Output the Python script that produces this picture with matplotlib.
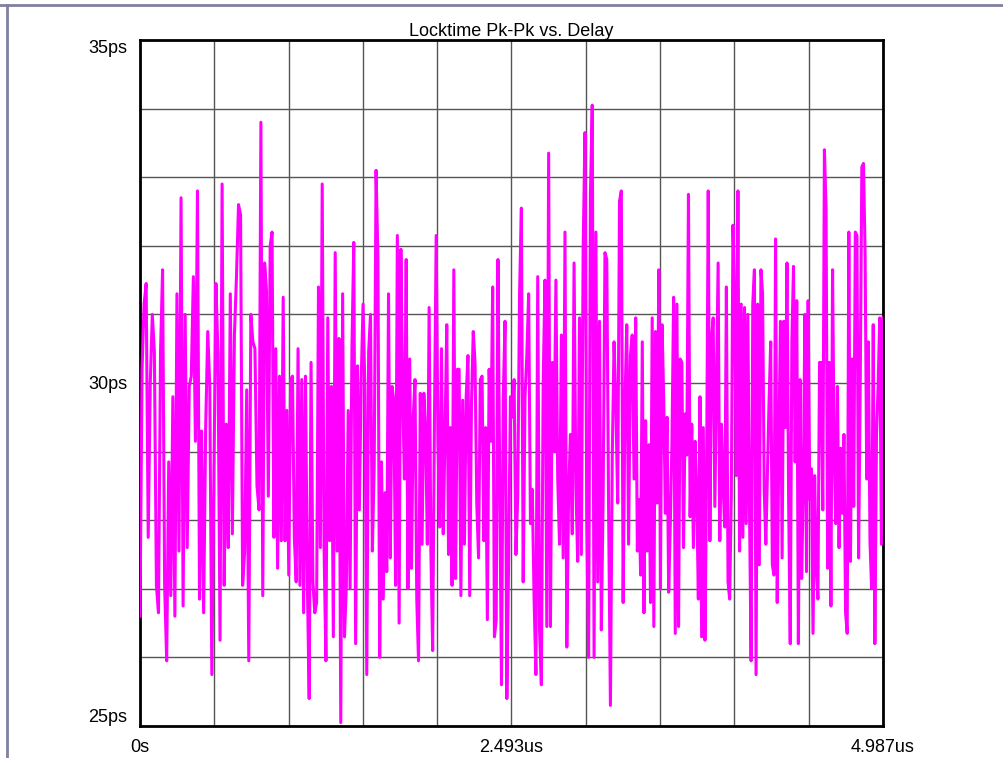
import numpy as np
import matplotlib.pyplot as plt
from matplotlib.ticker import MultipleLocator

plt.rcParams['font.family'] = ['Liberation Sans', 'DejaVu Sans']

# locktime pk-pk (ps) in six stretches
seg1 = [26.6, 30.2, 31.15, 31.45, 27.75, 30.0, 31.0, 30.45, 27.05, 26.65, 30.45, 31.65, 27.05, 25.95,
        28.85, 26.9, 29.8, 26.6, 31.3, 27.55, 32.7, 26.75, 31.0, 27.6, 29.95, 30.1, 31.55, 29.15, 32.8,
        26.85, 29.3, 26.65, 29.35, 30.75, 29.95, 25.75, 28.6, 31.45, 30.4, 26.25, 32.9, 27.05, 29.4, 27.6,
        31.3, 27.8, 30.7, 31.55, 32.6, 32.45, 27.05, 27.55, 29.9, 25.95, 31.0, 30.6, 30.5, 28.5]
seg2 = [28.15, 33.8, 26.9, 31.75, 31.35, 28.35, 32.0, 32.2, 27.75, 30.5, 27.3, 30.1, 27.7, 31.25, 27.7,
        29.6, 27.2, 30.05, 30.1, 27.75, 27.1, 30.5, 27.05, 30.05, 26.65, 30.1, 27.1, 25.4, 30.3, 27.1,
        26.65, 26.8, 31.4, 27.6, 32.9, 27.6, 25.95, 30.95, 27.7, 29.95, 26.3, 31.9, 27.55, 30.65, 25.05,
        31.3, 26.3, 27.05, 29.6, 27.0, 30.5, 32.05, 26.2, 30.25, 28.15, 30.05, 31.15, 29.9, 25.75, 30.45,
        31.0, 27.55, 28.8, 33.1]
seg3 = [31.8, 26.0, 28.85, 26.85, 28.4, 27.25, 31.3, 27.45, 29.95, 29.75, 27.05, 32.15, 26.5, 31.95,
        29.9, 28.6, 31.8, 27.0, 30.35, 27.3, 29.5, 30.05, 26.85, 25.95, 29.85, 27.65, 29.85, 29.3, 27.65,
        31.1, 27.55, 26.1, 29.4, 32.15, 29.15, 27.9, 30.5, 27.8, 29.25, 30.85, 27.5, 29.35, 27.05, 31.65,
        27.15, 30.2, 30.2, 26.9, 29.75, 27.65, 29.8, 30.4, 26.9, 29.7, 30.75, 30.3, 28.25, 27.45, 30.05,
        30.1, 27.7, 29.35, 26.55, 30.2, 29.15, 31.4, 26.3, 26.55, 31.8, 28.55, 25.6, 29.8]
seg4 = [30.9, 25.4, 27.45, 29.8, 29.5, 30.05, 27.5, 28.35, 31.3, 32.55, 27.1, 29.8, 30.4, 31.3, 27.95,
        28.45, 26.85, 25.75, 31.55, 26.4, 25.6, 30.0, 31.5, 26.45, 33.35, 26.45, 30.3, 29.0, 31.5, 28.6,
        27.65, 30.7, 27.45, 32.2, 26.15, 28.4, 29.25, 27.8, 31.75, 28.5, 27.4, 30.95, 27.5, 31.95, 33.65,
        27.95, 26.0, 32.75, 34.05, 26.0, 32.2, 27.1, 30.9, 26.4, 28.35, 31.9, 31.8, 28.15, 25.3, 28.9,
        30.6, 29.7, 28.25, 32.65, 32.8, 26.8, 29.7, 30.85, 27.65, 30.4, 30.7]
seg5 = [28.6, 30.95, 27.55, 28.3, 27.2, 30.6, 26.65, 29.45, 27.55, 29.1, 26.8, 30.95, 26.45, 30.75,
        28.25, 31.65, 27.0, 30.85, 29.75, 28.1, 29.5, 26.95, 27.95, 29.15, 31.25, 26.35, 31.15, 26.45,
        30.35, 30.3, 27.6, 29.55, 28.95, 32.75, 28.05, 29.4, 27.6, 29.15, 28.4, 26.85, 29.8, 26.3, 29.35,
        26.25, 28.7, 32.8, 27.7, 30.65, 30.95, 28.2, 29.95, 31.75, 27.7, 29.4, 28.5, 27.9, 31.4, 27.1,
        26.85, 28.4, 32.3, 31.3, 28.65, 32.8, 27.55, 31.15, 27.75, 31.1, 27.95, 31.0, 28.2, 25.95, 31.15,
        31.65]
seg6 = [25.75, 31.15, 27.35, 31.65, 31.3, 28.45, 27.65, 28.7, 29.75, 30.6, 27.35, 27.2, 32.1, 26.8,
        29.1, 30.9, 27.45, 30.9, 29.35, 31.75, 28.3, 26.2, 30.6, 31.7, 28.85, 31.2, 26.2, 30.05, 27.15,
        28.45, 31.0, 27.25, 31.2, 28.3, 28.75, 26.35, 28.65, 27.3, 26.85, 30.3, 30.3, 28.15, 33.4, 32.55,
        27.3, 30.3, 26.75, 31.65, 29.0, 27.95, 29.95, 27.6, 29.05, 28.1, 29.25, 26.65, 26.35, 32.2, 27.4,
        30.35, 28.2, 32.2, 32.15, 27.45, 29.95, 33.15, 33.2, 31.9, 28.6, 30.6, 27.7, 27.0, 30.85, 26.2,
        29.25, 29.95, 30.95, 27.65, 30.95]
segments = [seg1, seg2, seg3, seg4, seg5, seg6]
# delay (us) where each stretch starts/ends
seg_edges = [0.0, 0.799, 1.597, 2.450, 3.316, 4.135, 4.987]

delay = []
for i, s in enumerate(segments):
    last = (i == len(segments) - 1)
    delay.append(np.linspace(seg_edges[i], seg_edges[i + 1], len(s), endpoint=last))
delay = np.concatenate(delay)
pkpk = np.concatenate(segments)

xmax = 4.987
xtick_pos = [0, xmax / 2, xmax]
xtick_lab = ['0s', '2.493us', '4.987us']
ytick_pos = [25, 30, 35]
ytick_lab = ['25ps', '30ps', '35ps']

fig = plt.figure(figsize=(10.04, 7.58), dpi=100)
ax = fig.add_axes([140 / 1004, 1 - 726 / 758, 743 / 1004, 686 / 758])

ax.plot(delay, pkpk, color='#ff00ff', lw=2.2, zorder=3)

ax.set_xlim(0, xmax)
ax.set_ylim(25, 35)
ax.xaxis.set_minor_locator(MultipleLocator(xmax / 10))
ax.yaxis.set_minor_locator(MultipleLocator(1))
ax.grid(which='minor', color='#555555', lw=1.0)
ax.grid(which='major', color='#555555', lw=1.0)
ax.set_axisbelow(True)
ax.set_xticks(xtick_pos)
ax.set_xticklabels(xtick_lab)
ax.set_yticks(ytick_pos)
ax.set_yticklabels(ytick_lab)
ax.tick_params(which='both', length=0)
ax.tick_params(axis='x', pad=9, labelsize=13)
ax.tick_params(axis='y', pad=9, labelsize=13)
labs = ax.get_yticklabels()
labs[0].set_va('bottom')
labs[2].set_va('top')
for sp in ax.spines.values():
    sp.set_linewidth(2)
    sp.set_color('black')

ax.set_title('Locktime Pk-Pk vs. Delay', fontsize=13, pad=3)

# the thin grey frame along the top and left edge of the window
fig.add_artist(plt.Line2D([0, 1], [1 - 5 / 758] * 2, color='#8080a0', lw=2))
fig.add_artist(plt.Line2D([7 / 1004] * 2, [0, 1 - 5 / 758], color='#8080a0', lw=2))

plt.savefig('out.png', dpi=100)
